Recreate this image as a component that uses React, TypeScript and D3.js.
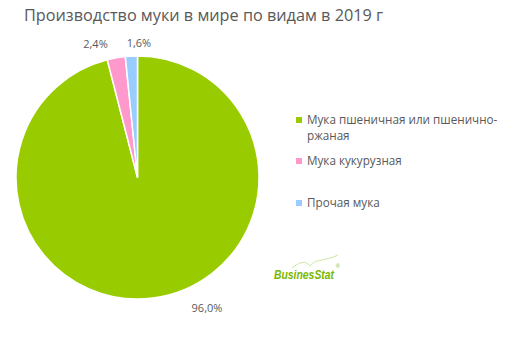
import { useEffect, useRef } from 'react';
import * as d3 from 'd3';

const categories = ['Мука пшеничная или пшенично-ржаная', 'Мука кукурузная', 'Прочая мука'];
const values = [96.0, 2.4, 1.6];
const colors = ['#99cc00', '#ff99cc', '#99ccff'];
const legendLines = [['Мука пшеничная или пшенично-', 'ржаная'], ['Мука кукурузная'], ['Прочая мука']];

const W = 512;
const H = 352;

export default function App() {
  const svgRef = useRef<SVGSVGElement>(null);

  useEffect(() => {
    if (!svgRef.current) return;
    const svg = d3.select(svgRef.current);
    svg.selectAll('*').remove();

    const font = '"Open Sans", sans-serif';
    const textColor = '#595959';

    svg.append('rect').attr('width', W).attr('height', H).attr('fill', '#fff');

    // Title
    svg.append('text')
      .attr('x', 24)
      .attr('y', 21)
      .attr('font-family', font)
      .attr('font-size', 17)
      .attr('fill', textColor)
      .attr('textLength', 359)
      .attr('lengthAdjust', 'spacingAndGlyphs')
      .text('Производство муки в мире по видам в 2019 г');

    const cx = 137.5;
    const cy = 177.5;
    const r = 121.5;

    const pie = d3.pie<number>().sort(null).value(d => d);
    const arcs = pie(values);
    const arc = d3.arc<d3.PieArcDatum<number>>().innerRadius(0).outerRadius(r);

    const g = svg.append('g').attr('transform', `translate(${cx},${cy})`);
    g.selectAll('path')
      .data(arcs)
      .enter()
      .append('path')
      .attr('d', arc)
      .attr('fill', (d, i) => colors[i])
      .attr('stroke', '#fff')
      .attr('stroke-width', 1.5);

    // value labels outside the pie
    const labelPos: [number, number][] = arcs.map(d => {
      const mid = (d.startAngle + d.endAngle) / 2;
      const rr = r + 10;
      return [Math.sin(mid) * rr, -Math.cos(mid) * rr];
    });
    const offsets: [number, number][] = [[53, 0], [-19, -4], [8, -3]];
    g.selectAll('text.val')
      .data(arcs)
      .enter()
      .append('text')
      .attr('class', 'val')
      .attr('x', (d, i) => labelPos[i][0] + offsets[i][0])
      .attr('y', (d, i) => labelPos[i][1] + offsets[i][1])
      .attr('text-anchor', 'middle')
      .attr('dy', '0.35em')
      .attr('font-family', font)
      .attr('font-size', 11)
      .attr('fill', textColor)
      .text(d => d.data.toFixed(1).replace('.', ',') + '%');

    // Legend
    const legendY = [120, 161, 203];
    const lg = svg.append('g');
    legendLines.forEach((lines, i) => {
      lg.append('rect')
        .attr('x', 296)
        .attr('y', legendY[i] - 3)
        .attr('width', 6)
        .attr('height', 6)
        .attr('fill', colors[i]);
      lines.forEach((ln, j) => {
        lg.append('text')
          .attr('x', 307)
          .attr('y', legendY[i] + j * 16)
          .attr('dy', '0.35em')
          .attr('font-family', font)
          .attr('font-size', 11.7)
          .attr('fill', textColor)
          .text(ln);
      });
    });

    // Logo
    const logo = svg.append('g');
    logo.append('path')
      .attr('d', 'M 292 268 C 300 262, 305 260, 310 266 C 316 258, 324 262, 338 255')
      .attr('fill', 'none')
      .attr('stroke', '#cfe8a0')
      .attr('stroke-width', 1);
    logo.append('text')
      .attr('x', 274)
      .attr('y', 279)
      .attr('font-family', '"Liberation Sans", Arial, sans-serif')
      .attr('font-size', 12.5)
      .attr('font-style', 'italic')
      .attr('font-weight', 'bold')
      .attr('fill', '#7ab800')
      .attr('textLength', 60)
      .attr('lengthAdjust', 'spacingAndGlyphs')
      .text('BusinesStat');
    logo.append('text')
      .attr('x', 336)
      .attr('y', 268)
      .attr('font-family', '"Liberation Sans", Arial, sans-serif')
      .attr('font-size', 5)
      .attr('fill', '#7ab800')
      .text('®');
  }, []);

  return <svg ref={svgRef} width={W} height={H} style={{ display: 'block', position: 'absolute', left: 0, top: 0 }} />;
}
